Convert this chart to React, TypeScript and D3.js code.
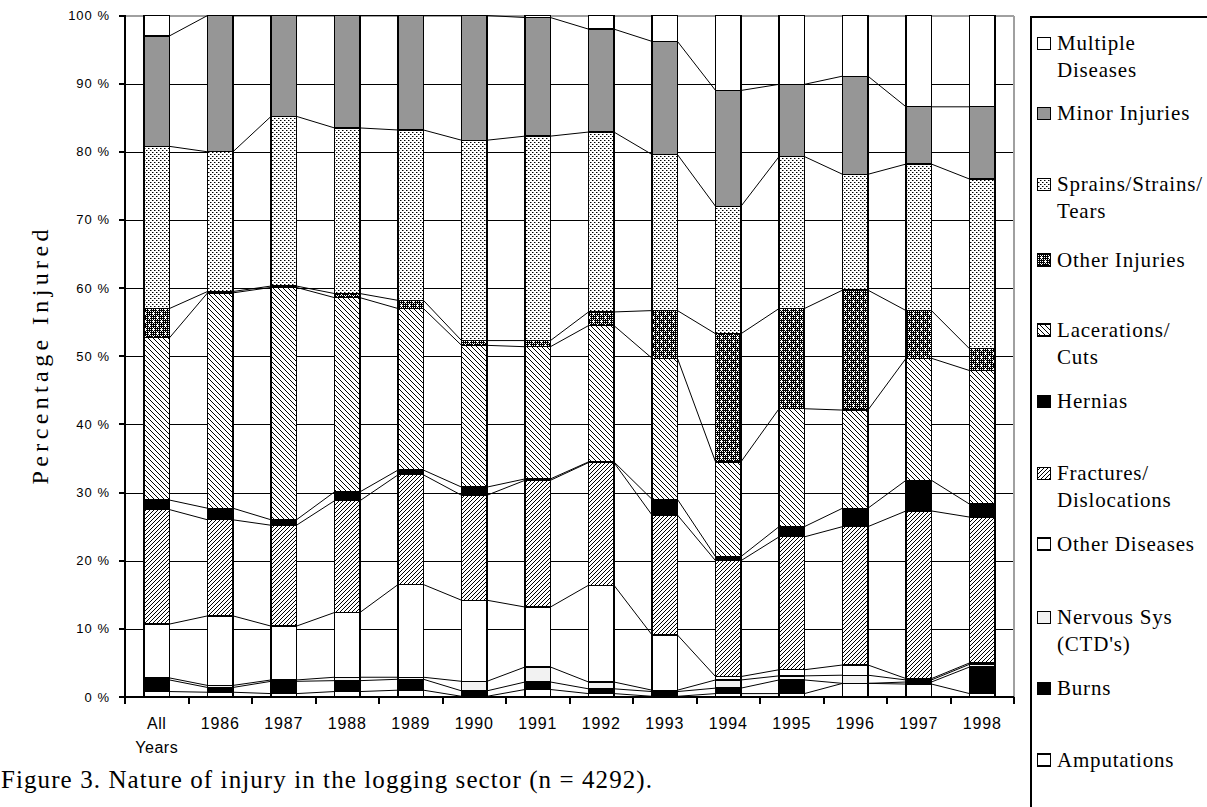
import React from "react";
import * as d3 from "d3";

// ---------- data (percent of injuries, bottom to top of each bar) ----------
const categories = ["All Years", "1986", "1987", "1988", "1989", "1990", "1991", "1992", "1993", "1994", "1995", "1996", "1997", "1998"];
const amputations = [0.8, 0.7, 0.5, 0.8, 1.0, 0.1, 1.1, 0.5, 0.1, 0.5, 0.5, 2.0, 1.9, 0.5];
const burns = [1.7, 0.7, 1.8, 1.6, 1.6, 0.8, 1.1, 0.7, 0.7, 0.8, 2.0, 0.0, 0.3, 3.9];
const nervousSys = [0.3, 0.3, 0.2, 0.5, 0.3, 1.4, 2.2, 1.0, 0.2, 1.2, 0.6, 1.2, 0.3, 0.4];
const otherDiseases = [7.9, 10.2, 7.9, 9.5, 13.6, 11.9, 8.8, 14.2, 8.1, 0.5, 0.9, 1.5, 0.2, 0.2];
const fractures = [16.8, 14.1, 14.8, 16.4, 16.1, 15.4, 18.6, 18.0, 17.6, 17.0, 19.5, 20.3, 24.6, 21.4];
const hernias = [1.4, 1.7, 0.8, 1.3, 0.7, 1.2, 0.2, 0.1, 2.3, 0.6, 1.5, 2.7, 4.5, 1.9];
const lacerations = [23.8, 31.6, 34.1, 28.5, 23.7, 20.8, 19.4, 20.0, 20.7, 13.9, 17.3, 14.4, 17.9, 19.6];
const otherInjuries = [4.3, 0.2, 0.2, 0.6, 1.2, 0.7, 0.9, 2.0, 7.0, 18.8, 14.7, 17.6, 7.0, 3.2];
const sprains = [23.8, 20.5, 24.9, 24.3, 25.0, 29.4, 30.0, 26.4, 22.9, 18.7, 22.3, 17.0, 21.5, 24.9];
const minorInjuries = [16.2, 20.0, 14.8, 16.5, 16.8, 18.3, 17.4, 15.1, 16.6, 17.0, 10.6, 14.4, 8.4, 10.6];
const multipleDiseases = [3.0, 0, 0, 0, 0, 0, 0.3, 2.0, 3.8, 11.0, 10.1, 8.9, 13.4, 13.4];

const seriesKeys = ["amputations", "burns", "nervous", "otherDiseases", "fractures", "hernias", "lacerations", "otherInjuries", "sprains", "minor", "multiple"];
const seriesValues = [amputations, burns, nervousSys, otherDiseases, fractures, hernias, lacerations, otherInjuries, sprains, minorInjuries, multipleDiseases];
const seriesFills = ["#ffffff", "#000000", "#f2f2f2", "#ffffff", "url(#pFract)", "#000000", "url(#pLacer)", "url(#pOther)", "url(#pSprain)", "#969696", "#ffffff"];

const yTicks = [0, 10, 20, 30, 40, 50, 60, 70, 80, 90, 100];
const yTickLabels = ["0 %", "10 %", "20 %", "30 %", "40 %", "50 %", "60 %", "70 %", "80 %", "90 %", "100 %"];

// legend: top to bottom
const legendKeys = ["multiple", "minor", "sprains", "otherInjuries", "lacerations", "hernias", "fractures", "otherDiseases", "nervous", "burns", "amputations"];
const legendLines = [["Multiple", "Diseases"], ["Minor Injuries"], ["Sprains/Strains/", "Tears"], ["Other Injuries"], ["Lacerations/", "Cuts"], ["Hernias"], ["Fractures/", "Dislocations"], ["Other Diseases"], ["Nervous Sys", "(CTD's)"], ["Burns"], ["Amputations"]];
const legendBaselines = [50, 120, 191, 266.5, 336.5, 408, 480, 550.5, 624, 695, 766.5];

const serif = "Liberation Serif";
const sans = "Liberation Sans";

export default function App() {
  const W = 1207, H = 807;
  const left = 125, right = 1014, top = 15.5, bottom = 697;

  const x = d3.scaleBand<string>().domain(categories).range([left, right]).paddingInner(0.6).paddingOuter(0.3);
  const y = d3.scaleLinear().domain([0, 1]).range([bottom, top]);
  const bw = x.bandwidth();
  const step = x.step();

  const rows = categories.map((c, i) => {
    const r: any = { cat: c };
    seriesKeys.forEach((k, s) => (r[k] = seriesValues[s][i]));
    return r;
  });
  const stacked = d3.stack<any>().keys(seriesKeys).offset(d3.stackOffsetExpand)(rows);

  // other injuries pattern cells (dark texture with white sparkles)
  const otherCells: { x: number; y: number }[] = [];
  for (let r = 0; r < 8; r++)
    for (let c = 0; c < 8; c++) {
      const plus = (r === 5 && c >= 4 && c <= 6) || (c === 5 && r >= 4 && r <= 6);
      const plus2 = (r === 1 && c <= 2) || (c === 1 && r <= 2);
      if (plus || plus2) continue;
      if ((r + c) % 2 === 0 || r % 2 === 0) otherCells.push({ x: c, y: r });
    }

  const fillOf = (k: string) => seriesFills[seriesKeys.indexOf(k)];

  return (
    <svg width={W} height={H} style={{ position: "absolute", left: 0, top: 0, background: "#fff" }}>
      <defs>
        <pattern id="pFract" patternUnits="userSpaceOnUse" width="4" height="4">
          <rect width="4" height="4" fill="#fff" />
          <path d="M-1,1 l2,-2 M0,4 l4,-4 M3,5 l2,-2" stroke="#000" strokeWidth="1" />
        </pattern>
        <pattern id="pLacer" patternUnits="userSpaceOnUse" width="5" height="5">
          <rect width="5" height="5" fill="#fff" />
          <path d="M-1,-1 l7,7 M-1,4 l2,2 M4,-1 l2,2" stroke="#000" strokeWidth="1" />
        </pattern>
        <pattern id="pSprain" patternUnits="userSpaceOnUse" width="4" height="4">
          <rect width="4" height="4" fill="#fff" />
          <rect x="0" y="0" width="1" height="1" fill="#000" />
          <rect x="2" y="2" width="1" height="1" fill="#000" />
          <rect x="1" y="0" width="1" height="1" fill="#888" />
          <rect x="3" y="2" width="1" height="1" fill="#888" />
        </pattern>
        <pattern id="pOther" patternUnits="userSpaceOnUse" width="8" height="8">
          <rect width="8" height="8" fill="#fff" />
          {otherCells.map((p, i) => (
            <rect key={i} x={p.x} y={p.y} width="1" height="1" fill="#000" />
          ))}
        </pattern>
      </defs>

      {/* gridlines and plot border */}
      <g shapeRendering="crispEdges">
        {yTicks.slice(1, 10).map((t) => (
          <line key={t} x1={left} x2={right} y1={Math.round(y(t / 100)) + 0.5} y2={Math.round(y(t / 100)) + 0.5} stroke="#000" strokeWidth={1} />
        ))}
        <line x1={left} x2={right} y1={top} y2={top} stroke="#a0a0a0" strokeWidth={2} />
        <line x1={right - 0.5} x2={right - 0.5} y1={top} y2={bottom} stroke="#a0a0a0" strokeWidth={2} />
      </g>

      {/* bars */}
      <g shapeRendering="crispEdges">
        {stacked.map((ser, s) => (
          <g key={ser.key}>
            {ser.map((d, i) => {
              const h = y(d[0]) - y(d[1]);
              if (h <= 0.05) return null;
              return (
                <rect key={i} x={x(categories[i])!} y={y(d[1])} width={bw} height={h} fill={seriesFills[s]} stroke="#000" strokeWidth={1.3} />
              );
            })}
          </g>
        ))}
      </g>

      {/* series lines */}
      <g fill="none" stroke="#000" strokeWidth={1}>
        {stacked.slice(0, 10).map((ser) =>
          ser.slice(0, -1).map((d, i) => {
            const n = ser[i + 1];
            return (
              <line key={ser.key + i} x1={x(categories[i])! + bw} y1={y(d[1])} x2={x(categories[i + 1])!} y2={y(n[1])} />
            );
          })
        )}
      </g>

      {/* axes */}
      <g shapeRendering="crispEdges" stroke="#000" strokeWidth={2}>
        <line x1={left} x2={left} y1={top - 1} y2={bottom + 1} />
        <line x1={left - 1} x2={right} y1={bottom} y2={bottom} />
        {yTicks.map((t) => (
          <line key={t} x1={left - 6} x2={left} y1={y(t / 100)} y2={y(t / 100)} />
        ))}
        {d3.range(categories.length + 1).map((i) => (
          <line key={i} x1={left + i * step} x2={left + i * step} y1={bottom} y2={bottom + 7} />
        ))}
      </g>

      {/* y tick labels */}
      <g fontFamily={sans} fontSize={13} fill="#000" textAnchor="end">
        {yTicks.map((t, i) => (
          <text key={t} x={110} y={y(t / 100) + 4.5} letterSpacing={1}>
            {yTickLabels[i]}
          </text>
        ))}
      </g>

      {/* x tick labels */}
      <g fontFamily={sans} fontSize={16} fill="#000" textAnchor="middle">
        {categories.map((c) => {
          const cx = x(c)! + bw / 2;
          if (c === "All Years") {
            return (
              <g key={c}>
                <text x={cx} y={729} letterSpacing={0.5}>All</text>
                <text x={cx} y={752.5} letterSpacing={0.5}>Years</text>
              </g>
            );
          }
          return (
            <text key={c} x={cx} y={729} letterSpacing={0.8}>
              {c}
            </text>
          );
        })}
      </g>

      {/* y axis title */}
      <text transform={`translate(48, 357) rotate(-90)`} textAnchor="middle" fontFamily={serif} fontSize={24} textLength={255} lengthAdjust="spacing">
        Percentage Injured
      </text>

      {/* legend */}
      <rect x={1031} y={17} width={220} height={820} fill="#fff" stroke="#000" strokeWidth={2} shapeRendering="crispEdges" />
      <g fontFamily={serif} fontSize={21} fill="#000">
        {legendKeys.map((k, i) => {
          const b = legendBaselines[i];
          return (
            <g key={k}>
              <rect x={1037.5} y={b - 12.5} width={13} height={12} fill={fillOf(k)} stroke="#000" strokeWidth={1.2} shapeRendering="crispEdges" />
              {legendLines[i].map((ln, j) => (
                <text key={j} x={1057} y={b + j * 27} letterSpacing={0.8}>
                  {ln}
                </text>
              ))}
            </g>
          );
        })}
      </g>

      {/* caption */}
      <text x={1} y={788} fontFamily={serif} fontSize={25} textLength={651} lengthAdjust="spacing">
        Figure 3. Nature of injury in the logging sector (n = 4292).
      </text>
    </svg>
  );
}
